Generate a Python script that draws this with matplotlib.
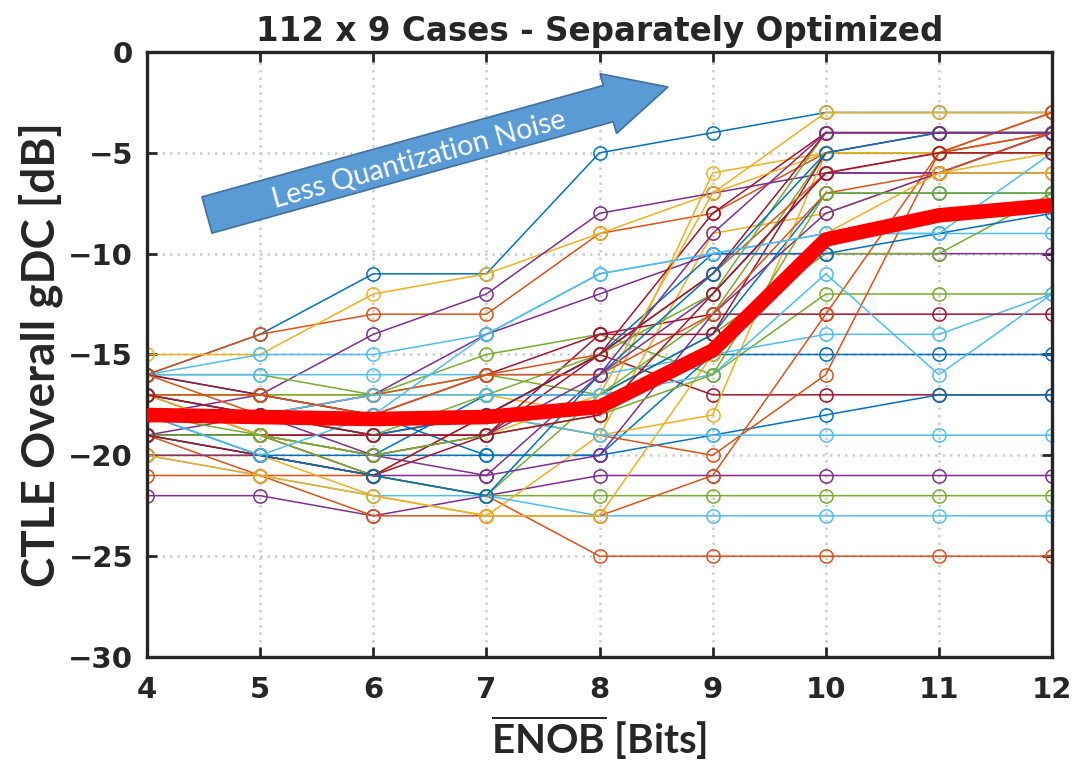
import matplotlib
matplotlib.use("Agg")
import matplotlib.pyplot as plt
from matplotlib.patches import FancyArrow
import numpy as np

plt.rcParams['mathtext.fontset'] = 'custom'
plt.rcParams['mathtext.bf'] = 'Lato:bold'
plt.rcParams['mathtext.rm'] = 'Lato'

# Données
enob = [4, 5, 6, 7, 8, 9, 10, 11, 12]

# gDC par cas (dB), dans l'ordre du cycle de couleurs MATLAB
cases_gdc = [
    # bloc 1
    [-16, -14, -11, -11, -5, -4, -3, -3, -3],
    [-16, -14, -13, -13, -9, -8, -5, -5, -4],
    [-15, -15, -12, -11, -9, -7, -3, -3, -3],
    [-22, -22, -23, -22, -21, -21, -21, -21, -21],
    [-19, -20, -21, -22, -22, -22, -22, -22, -22],
    [-16, -15, -15, -14, -11, -10, -9, -9, -9],
    [-19, -19, -19, -18, -15, -17, -17, -17, -17],
    # bloc 2
    [-19, -20, -20, -20, -20, -19, -18, -17, -17],
    [-21, -21, -21, -22, -25, -25, -25, -25, -25],
    [-17, -17, -17, -17, -18, -6, -5, -5, -5],
    [-18, -17, -14, -12, -8, -7, -6, -6, -6],
    [-16, -16, -17, -15, -14, -16, -12, -12, -12],
    [-16, -16, -16, -16, -16, -15, -14, -14, -12],
    [-19, -19, -19, -19, -14, -13, -13, -13, -13],
    # bloc 3
    [-16, -17, -18, -20, -20, -15, -15, -15, -15],
    [-17, -18, -19, -18, -19, -20, -16, -5, -4],
    [-20, -20, -22, -23, -19, -9, -8, -6, -6],
    [-19, -18, -17, -14, -12, -10, -10, -10, -10],
    [-17, -17, -17, -16, -17, -14, -10, -10, -7],
    [-20, -21, -22, -22, -23, -23, -23, -23, -23],
    [-19, -19, -21, -19, -15, -8, -4, -4, -4],
    # bloc 4
    [-19, -19, -20, -17, -17, -14, -7, -7, -7],
    [-19, -21, -23, -23, -23, -21, -13, -5, -3],
    [-20, -20, -21, -18, -19, -18, -5, -5, -5],
    [-17, -19, -20, -21, -16, -12, -6, -6, -4],
    [-19, -19, -21, -22, -17, -13, -5, -5, -5],
    [-18, -18, -18, -18, -19, -19, -19, -19, -19],
    [-16, -17, -18, -16, -14, -14, -5, -4, -4],
    # bloc 5
    [-17, -18, -19, -18, -15, -10, -10, -9, -8],
    [-16, -18, -17, -16, -15, -11, -6, -5, -3],
    [-17, -19, -20, -19, -17, -7, -5, -5, -5],
    [-20, -20, -21, -21, -20, -13, -8, -6, -4],
    [-18, -18, -19, -17, -15, -12, -4, -4, -4],
    [-18, -18, -17, -17, -17, -16, -11, -16, -12],
    [-19, -20, -21, -18, -15, -11, -4, -4, -4],
    # bloc 6
    [-18, -20, -21, -22, -16, -11, -5, -4, -4],
    [-17, -17, -18, -16, -16, -13, -7, -6, -4],
    [-20, -21, -22, -23, -23, -15, -9, -6, -5],
    [-18, -18, -20, -19, -16, -9, -4, -4, -4],
    [-18, -19, -20, -19, -18, -16, -7, -7, -7],
    [-18, -20, -18, -14, -11, -10, -9, -9, -5],
    [-17, -18, -19, -19, -18, -12, -6, -5, -5],
]

# moyenne de tous les cas (courbe rouge)
mean_gdc = [-18.0, -18.1, -18.2, -18.1, -17.6, -14.8, -9.3, -8.1, -7.6]

matlab_colors = ['#0072BD', '#D95319', '#EDB120', '#7E2F8E',
                 '#77AC30', '#4DBEEE', '#A2142F']

fig = plt.figure(figsize=(10.92, 7.64), dpi=100)
ax = fig.add_axes([147 / 1092, 1 - 657 / 764, 905 / 1092, 605 / 764])

for i, vals in enumerate(cases_gdc):
    c = matlab_colors[i % len(matlab_colors)]
    ax.plot(enob, vals, color=c, lw=1.1, marker='o', ms=9.5,
            mfc='none', mec=c, mew=1.1, zorder=2)

ax.plot(enob, mean_gdc, color='#ff0000', lw=10.5, solid_capstyle='butt',
        solid_joinstyle='round', zorder=3)

ax.set_xlim(4, 12)
ax.set_ylim(-30, 0)
ax.set_xticks(enob)
ax.set_yticks(np.arange(-30, 1, 5))
ax.grid(True, color='#cccccc', linestyle=(0, (1, 2)), lw=1.8)
ax.set_axisbelow(True)

for s in ax.spines.values():
    s.set_linewidth(2.4)
    s.set_color('#262626')
ax.tick_params(direction='in', top=True, right=True, length=7, width=2,
               colors='#262626', pad=10)
ax.tick_params(axis='x', pad=14)
for lab in ax.get_xticklabels() + ax.get_yticklabels():
    lab.set_fontfamily('DejaVu Sans')
    lab.set_fontweight('bold')
    lab.set_fontsize(21)

ax.set_title('112 x 9 Cases - Separately Optimized', fontsize=23.5,
             fontweight='bold', family='DejaVu Sans', color='#262626', pad=8)
ax.set_ylabel('CTLE Overall gDC [dB]', fontsize=33, fontweight='bold',
              family='Lato', color='#262626', labelpad=4)
ax.set_xlabel(r'$\overline{\mathbf{ENOB}}$ [Bits]', fontsize=29,
              fontweight='bold', family='Lato', color='#262626', labelpad=6)

# Flèche d'annotation (coordonnées en pouces de la figure)
arrow = FancyArrow(2.07, 5.49, 4.61, 1.28, width=0.376, head_width=0.62,
                   head_length=0.62, length_includes_head=True,
                   transform=fig.dpi_scale_trans, fc='#5B9BD5', ec='#41719C',
                   lw=1.2, zorder=5)
fig.add_artist(arrow)
fig.text(4.19, 7.64 - 1.60, 'Less Quantization Noise', transform=fig.dpi_scale_trans,
         rotation=15.5, rotation_mode='anchor', ha='center', va='center',
         fontsize=20.5, family='Lato', color='white', zorder=6)

fig.savefig('out.png', dpi=100)
